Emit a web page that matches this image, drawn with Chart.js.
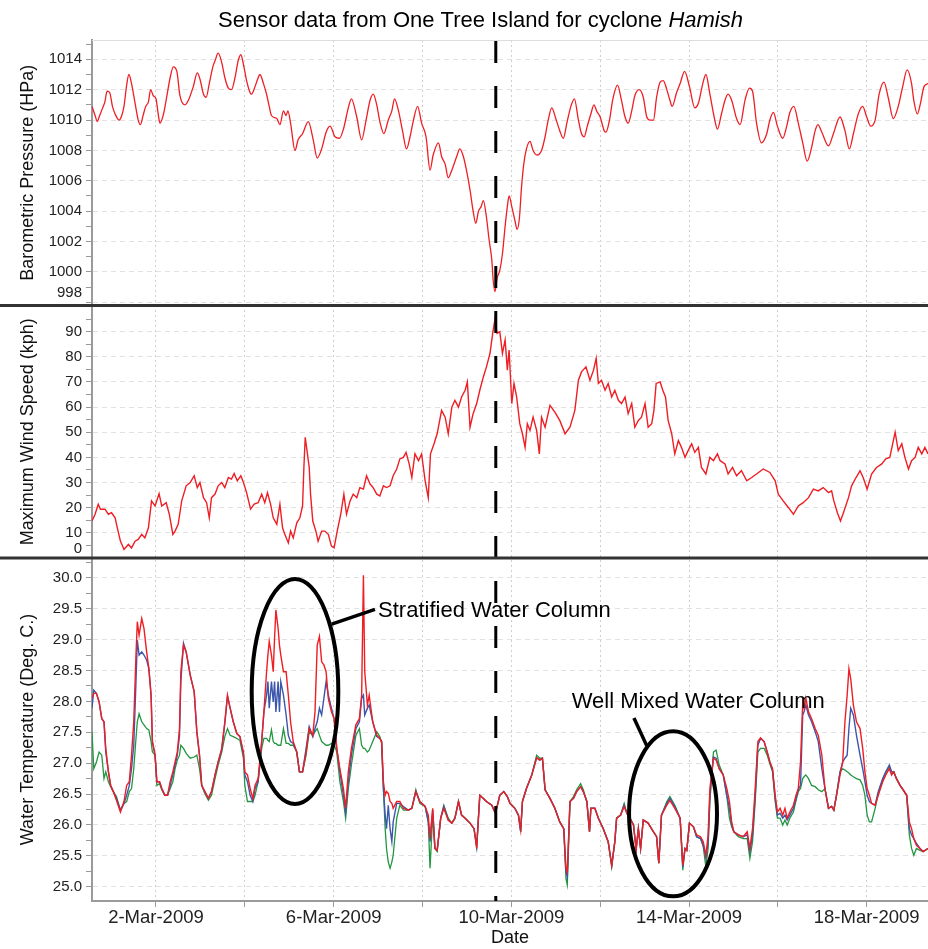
<!DOCTYPE html>
<html><head><meta charset="utf-8">
<script src="https://cdn.jsdelivr.net/npm/chart.js@4.4.1/dist/chart.umd.min.js"></script>
<style>html,body{margin:0;padding:0;background:#fff;}#wrap{width:928px;height:949px;}</style>
</head><body><div id="wrap"><canvas id="c" width="928" height="949"></canvas></div>
<script>
// ---------------- DATA (x = days since 1-Mar-2009 00:00) ----------------
const pressureDays = [
-0.44,-0.37,-0.32,-0.28,-0.20,-0.15,-0.10,-0.04,0.02,0.08,
0.17,0.23,0.28,0.34,0.39,0.45,0.53,0.60,0.65,0.71,
0.77,0.83,0.88,0.94,1.00,1.05,1.09,1.17,1.24,1.32,
1.39,1.47,1.54,1.65,1.73,1.84,1.93,1.99,2.07,2.13,
2.20,2.28,2.33,2.40,2.48,2.55,2.63,2.70,2.78,2.85,
2.91,2.98,3.04,3.12,3.15,3.23,3.29,3.34,3.42,3.49,
3.55,3.60,3.72,3.79,3.87,3.93,3.97,4.03,4.13,4.20,
4.30,4.43,4.54,4.63,4.73,4.83,4.92,5.03,5.13,5.22,
5.33,5.40,5.52,5.63,5.73,5.82,5.89,5.97,6.04,6.13,
6.23,6.31,6.37,6.46,6.55,6.64,6.72,6.79,6.89,6.98,
7.08,7.17,7.24,7.36,7.43,7.51,7.58,7.66,7.77,7.84,
7.92,7.99,8.07,8.14,8.20,8.26,8.32,8.37,8.44,8.50,
8.56,8.59,8.63,8.68,8.74,8.80,8.86,8.91,8.95,9.01,
9.08,9.13,9.18,9.23,9.28,9.34,9.42,9.49,9.58,9.68,
9.76,9.83,9.91,10.00,10.09,10.17,10.25,10.34,10.42,10.51,
10.58,10.64,10.71,10.79,10.86,10.92,11.00,11.09,11.13,11.21,
11.28,11.39,11.48,11.56,11.63,11.71,11.78,11.88,11.97,12.05,
12.12,12.20,12.27,12.35,12.42,12.50,12.57,12.62,12.72,12.80,
12.90,13.01,13.13,13.21,13.31,13.38,13.47,13.58,13.64,13.73,
13.81,13.88,13.96,14.07,14.15,14.26,14.36,14.43,14.52,14.63,
14.75,14.82,14.90,14.99,15.11,15.20,15.27,15.36,15.46,15.56,
15.66,15.76,15.84,15.90,15.99,16.14,16.25,16.40,16.51,16.61,
16.70,16.81,16.91,17.00,17.09,17.19,17.28,17.39,17.49,17.60,
17.71,17.81,17.91,18.01,18.06,18.14,18.21,18.29,18.38];
const pressureValues = [
1010.9,1010.3,1009.9,1010.2,1010.8,1011.2,1011.9,1011.8,1010.9,1010.4,
1010.0,1010.3,1010.9,1012.3,1013.0,1012.4,1011.1,1010.0,1009.7,1010.3,
1010.9,1011.2,1012.0,1011.6,1011.4,1010.4,1009.8,1010.4,1011.5,1012.8,
1013.5,1013.2,1011.6,1011.0,1011.3,1012.2,1013.1,1012.7,1011.7,1011.5,
1012.4,1013.5,1013.9,1014.4,1013.8,1012.8,1012.1,1012.0,1012.8,1013.9,
1014.3,1013.5,1012.6,1011.8,1011.7,1012.2,1012.7,1013.0,1012.4,1011.7,
1010.9,1010.3,1010.1,1009.7,1010.6,1010.3,1010.6,1009.8,1008.0,1008.7,
1009.1,1009.9,1008.7,1007.5,1008.1,1009.2,1009.6,1008.9,1008.8,1009.4,
1010.8,1011.4,1010.2,1008.7,1010.0,1011.3,1011.7,1011.0,1009.9,1009.1,
1010.0,1010.6,1011.4,1010.6,1009.3,1008.1,1008.9,1009.9,1010.9,1009.8,
1008.9,1006.7,1007.7,1008.5,1007.6,1007.1,1006.2,1006.7,1007.6,1008.1,
1007.6,1006.7,1005.4,1004.0,1003.2,1004.0,1004.3,1004.7,1003.6,1002.1,
1000.8,999.5,998.7,999.6,1000.1,1001.2,1003.0,1004.3,1005.0,1004.3,
1003.4,1002.8,1003.5,1005.6,1007.1,1008.1,1008.6,1008.0,1007.7,1008.0,
1008.9,1010.0,1010.8,1010.1,1009.3,1008.8,1009.8,1010.9,1011.4,1010.0,
1009.1,1008.9,1009.6,1010.4,1011.0,1010.6,1010.2,1009.3,1009.2,1010.0,
1011.3,1012.3,1011.3,1010.2,1009.8,1010.6,1011.6,1012.0,1011.5,1010.2,
1010.0,1010.0,1011.5,1012.5,1012.6,1012.0,1011.3,1010.9,1011.8,1012.4,
1013.2,1012.2,1010.8,1011.1,1012.4,1013.0,1011.7,1010.0,1009.4,1010.4,
1011.3,1011.7,1011.3,1010.1,1009.7,1011.3,1012.1,1011.9,1009.8,1008.5,
1009.1,1010.0,1010.5,1009.6,1008.8,1009.6,1010.5,1010.9,1009.8,1008.5,
1007.3,1008.2,1009.3,1009.7,1009.2,1008.3,1009.1,1010.2,1009.3,1008.1,
1009.1,1010.4,1010.9,1010.2,1009.6,1010.0,1011.7,1012.5,1011.4,1010.1,
1010.9,1012.2,1013.3,1012.4,1011.3,1010.4,1011.1,1012.2,1012.4];

const windDays = [
-0.44,-0.37,-0.30,-0.25,-0.15,-0.07,0.00,0.08,0.13,0.20,
0.28,0.38,0.45,0.53,0.60,0.68,0.75,0.83,0.90,0.98,
1.07,1.13,1.23,1.30,1.38,1.43,1.50,1.58,1.68,1.77,
1.86,1.93,1.99,2.07,2.14,2.20,2.25,2.33,2.40,2.48,
2.55,2.63,2.70,2.76,2.83,2.91,2.97,3.04,3.13,3.21,
3.30,3.38,3.45,3.51,3.58,3.64,3.72,3.79,3.85,3.90,
3.98,4.03,4.09,4.17,4.24,4.30,4.33,4.36,4.41,4.45,
4.48,4.53,4.60,4.65,4.73,4.80,4.88,4.95,5.01,5.08,
5.16,5.23,5.29,5.37,5.44,5.52,5.59,5.67,5.74,5.82,
5.89,5.97,6.04,6.12,6.19,6.27,6.34,6.42,6.49,6.57,
6.63,6.70,6.76,6.83,6.91,6.98,7.06,7.13,7.18,7.26,
7.33,7.43,7.51,7.58,7.66,7.73,7.81,7.88,7.96,8.01,
8.07,8.14,8.22,8.29,8.37,8.44,8.52,8.58,8.63,8.68,
8.74,8.80,8.86,8.91,8.95,9.01,9.06,9.12,9.19,9.25,
9.31,9.36,9.42,9.49,9.57,9.63,9.68,9.76,9.87,9.98,
10.09,10.21,10.32,10.43,10.51,10.58,10.68,10.77,10.85,10.91,
10.96,11.03,11.11,11.18,11.26,11.33,11.41,11.48,11.56,11.63,
11.71,11.78,11.86,11.93,12.01,12.08,12.16,12.21,12.26,12.35,
12.41,12.47,12.53,12.61,12.68,12.76,12.83,12.91,12.98,13.06,
13.13,13.21,13.28,13.38,13.47,13.55,13.64,13.70,13.81,13.88,
13.98,14.07,14.18,14.30,14.41,14.52,14.67,14.82,14.94,15.01,
15.12,15.24,15.35,15.46,15.57,15.69,15.80,15.91,16.02,16.14,
16.21,16.26,16.34,16.41,16.49,16.59,16.66,16.76,16.85,16.92,
17.01,17.11,17.22,17.34,17.43,17.52,17.60,17.64,17.71,17.79,
17.86,17.94,18.01,18.09,18.16,18.24,18.31,18.38];
const windValues = [
14.7,17.4,21.4,19.4,19.4,17.4,18.0,16.0,12.0,6.7,
3.4,5.4,4.0,6.7,7.4,9.4,8.0,12.0,22.7,20.7,
25.6,20.7,22.0,17.4,9.4,10.7,13.4,22.7,28.7,30.0,
32.7,28.0,30.0,24.0,22.0,16.0,24.0,25.4,28.7,30.0,
28.0,32.0,31.4,33.6,30.7,32.7,30.0,26.0,19.4,21.4,
22.0,25.4,22.0,26.0,21.4,16.0,13.4,21.4,12.0,9.4,
6.0,10.7,8.0,14.0,16.0,20.7,36.0,48.0,41.4,36.0,
25.4,14.7,10.7,6.7,10.7,10.7,9.4,4.7,4.0,10.7,
17.4,25.4,17.4,22.7,25.4,24.0,28.0,27.4,32.7,29.4,
28.0,25.4,24.7,28.7,28.0,28.7,32.7,35.4,39.4,40.0,
42.0,37.4,32.0,41.4,38.7,41.4,30.7,24.0,41.4,45.4,
49.4,58.7,56.0,49.4,60.0,62.7,60.0,64.0,66.7,70.0,
52.0,57.4,61.4,66.7,72.0,76.0,81.4,89.3,94.7,89.3,
90.0,81.4,86.7,74.7,82.7,61.4,69.4,64.0,53.4,49.4,
44.0,53.4,50.7,56.0,50.7,41.4,56.0,52.0,60.7,58.0,
54.7,49.4,52.0,58.7,70.7,74.0,76.0,70.7,74.7,79.4,
69.4,70.7,66.7,69.4,64.0,66.7,62.7,61.4,64.0,57.4,
61.4,52.0,54.7,56.0,61.4,52.0,53.4,58.7,69.4,70.0,
66.7,64.0,54.7,49.4,41.4,46.7,44.0,40.0,42.7,45.4,
42.0,44.0,36.0,33.4,40.0,38.7,41.4,38.7,37.4,33.4,
36.0,32.7,34.7,30.7,32.0,33.4,35.4,34.0,30.7,25.4,
22.7,20.0,17.4,20.7,22.0,24.0,27.4,26.7,28.0,26.0,
26.7,22.7,18.0,14.7,18.7,24.0,28.7,32.0,34.7,32.0,
27.4,33.4,36.0,37.4,39.4,40.0,46.7,50.0,42.7,45.4,
40.0,35.4,38.7,40.0,44.0,41.4,44.0,41.4];

const tempDays = [
-0.44,-0.40,-0.34,-0.28,-0.22,-0.17,-0.13,-0.07,-0.02,0.04,
0.11,0.20,0.28,0.34,0.40,0.45,0.50,0.55,0.58,0.62,
0.68,0.73,0.79,0.84,0.89,0.92,0.98,1.02,1.08,1.13,
1.20,1.26,1.32,1.38,1.43,1.48,1.53,1.56,1.62,1.68,
1.77,1.86,1.92,1.98,2.03,2.10,2.18,2.25,2.33,2.40,
2.48,2.55,2.61,2.67,2.74,2.82,2.89,2.97,3.00,3.06,
3.12,3.18,3.23,3.30,3.38,3.43,3.49,3.52,3.55,3.60,
3.64,3.67,3.70,3.75,3.78,3.81,3.87,3.93,3.98,4.03,
4.09,4.17,4.23,4.30,4.38,4.45,4.53,4.58,4.63,4.68,
4.73,4.78,4.83,4.88,4.95,5.01,5.07,5.14,5.22,5.27,
5.33,5.40,5.50,5.58,5.63,5.67,5.70,5.76,5.80,5.88,
5.97,6.04,6.08,6.12,6.16,6.19,6.23,6.27,6.31,6.34,
6.42,6.49,6.57,6.68,6.76,6.85,6.94,7.06,7.13,7.17,
7.23,7.28,7.33,7.41,7.48,7.58,7.66,7.73,7.81,7.88,
7.96,8.07,8.16,8.22,8.29,8.37,8.44,8.56,8.63,8.67,
8.74,8.83,8.91,8.97,9.08,9.16,9.21,9.25,9.34,9.46,
9.57,9.64,9.70,9.76,9.87,9.98,10.09,10.18,10.23,10.26,
10.32,10.40,10.47,10.56,10.62,10.70,10.76,10.79,10.88,10.96,
11.07,11.18,11.26,11.33,11.37,11.46,11.54,11.60,11.67,11.75,
11.81,11.86,11.91,11.97,12.08,12.20,12.27,12.32,12.38,12.50,
12.57,12.68,12.80,12.86,12.91,12.95,13.01,13.10,13.17,13.26,
13.32,13.38,13.43,13.47,13.55,13.61,13.68,13.77,13.85,13.91,
13.96,14.01,14.11,14.22,14.31,14.37,14.43,14.49,14.55,14.61,
14.69,14.76,14.82,14.88,14.94,14.99,15.05,15.11,15.16,15.21,
15.27,15.35,15.41,15.46,15.51,15.56,15.59,15.63,15.69,15.76,
15.84,15.91,15.99,16.06,16.14,16.21,16.26,16.32,16.40,16.46,
16.51,16.56,16.60,16.64,16.70,16.77,16.85,16.91,16.96,17.01,
17.06,17.11,17.19,17.26,17.36,17.43,17.51,17.56,17.61,17.67,
17.75,17.82,17.90,17.96,18.01,18.06,18.12,18.20,18.27,18.38];
const tempRed = [
28.05,28.13,28.13,27.99,27.72,27.67,27.24,26.86,26.64,26.54,
26.40,26.21,26.38,26.64,26.70,27.13,27.67,28.75,29.29,29.07,
29.34,29.18,28.80,28.53,28.10,27.35,27.13,26.70,26.70,26.59,
26.48,26.48,26.70,26.86,27.02,27.18,27.56,28.48,28.91,28.80,
28.43,28.16,27.51,27.13,26.64,26.54,26.43,26.54,26.81,27.02,
27.24,27.67,28.10,27.89,27.67,27.48,27.43,27.18,26.86,26.81,
26.59,26.43,26.64,26.75,27.35,27.83,28.48,28.75,28.97,28.75,
28.48,29.02,29.48,29.18,28.91,28.75,28.48,28.48,28.10,27.67,
27.35,27.18,26.86,26.86,27.18,27.56,27.45,27.83,28.91,29.05,
28.64,28.59,28.48,28.05,27.83,27.72,27.24,26.91,26.59,26.27,
26.86,27.24,27.62,27.72,28.10,30.04,28.48,27.94,28.10,27.67,
27.45,27.40,27.35,26.70,26.48,26.54,26.51,26.38,26.35,26.27,
26.38,26.38,26.27,26.24,26.27,26.54,26.38,26.30,26.16,25.78,
26.27,25.62,25.59,26.11,26.27,26.08,26.03,26.11,26.38,26.16,
26.11,26.03,25.94,25.62,26.48,26.43,26.38,26.32,26.21,26.27,
26.48,26.54,26.46,26.35,26.27,26.16,25.92,26.38,26.59,26.81,
27.09,27.05,27.08,26.57,26.43,26.27,26.05,25.94,25.30,25.24,
26.38,26.43,26.54,26.62,26.54,26.38,25.89,26.27,26.27,26.11,
25.94,25.73,25.35,25.73,26.11,26.16,26.30,26.19,26.11,26.00,
25.59,25.94,25.62,26.08,26.03,25.89,25.81,25.38,26.16,26.32,
26.40,26.27,26.11,25.35,25.62,25.59,26.03,25.97,25.84,25.81,
25.73,25.51,25.84,26.59,27.08,27.05,26.91,26.81,26.59,26.38,
26.05,25.89,25.84,25.81,25.89,25.62,25.94,26.59,27.35,27.41,
27.35,27.18,27.02,26.91,26.48,26.21,26.27,26.16,26.27,26.11,
26.21,26.32,26.48,26.59,27.02,27.99,27.89,28.05,27.83,27.72,
27.56,27.45,27.13,26.59,26.27,26.30,26.24,26.48,26.81,27.02,
27.67,28.10,28.53,28.37,27.94,27.67,27.56,27.24,26.86,26.59,
26.48,26.35,26.32,26.48,26.70,26.81,26.91,26.81,26.86,26.75,
26.64,26.57,26.48,26.05,25.94,25.78,25.67,25.62,25.57,25.62];
const tempBlue = [
27.89,28.18,28.13,27.99,27.72,27.67,27.18,26.86,26.64,26.54,
26.43,26.24,26.35,26.48,26.64,26.91,27.29,28.32,28.99,28.75,
28.80,28.75,28.67,28.53,28.10,27.35,27.13,26.70,26.70,26.59,
26.48,26.48,26.64,26.81,26.97,27.13,27.45,28.32,28.94,28.80,
28.43,28.16,27.51,27.13,26.64,26.54,26.43,26.54,26.81,27.02,
27.21,27.64,28.08,27.89,27.67,27.48,27.43,27.13,26.81,26.70,
26.48,26.38,26.59,26.70,27.35,27.83,28.10,28.32,27.89,28.32,
27.99,28.32,27.83,28.32,27.83,28.32,28.10,27.78,27.45,27.35,
27.32,27.18,26.86,26.86,27.24,27.59,27.43,27.56,27.67,27.89,
27.78,28.05,28.32,28.10,27.89,27.72,27.24,26.86,26.48,26.21,
26.70,27.13,27.56,27.67,28.05,28.10,27.78,27.89,27.94,27.67,
27.43,27.40,27.35,26.59,26.16,25.94,26.32,25.94,25.73,26.05,
26.35,26.35,26.30,26.24,26.27,26.54,26.38,26.30,26.05,25.73,
26.24,25.62,25.59,26.11,26.30,26.08,26.03,26.11,26.38,26.16,
26.11,26.03,25.94,25.65,26.48,26.43,26.38,26.32,26.21,26.27,
26.48,26.54,26.46,26.35,26.27,26.16,25.89,26.38,26.59,26.81,
27.09,27.05,27.08,26.57,26.43,26.27,26.05,25.94,25.24,25.16,
26.38,26.43,26.54,26.62,26.54,26.38,25.89,26.27,26.27,26.11,
25.94,25.73,25.35,25.73,26.11,26.16,26.32,26.19,26.11,26.00,
25.62,25.94,25.62,26.08,26.03,25.89,25.81,25.38,26.16,26.35,
26.43,26.30,26.11,25.32,25.62,25.59,26.03,25.97,25.81,25.78,
25.67,25.46,25.73,26.48,27.10,27.08,26.91,26.81,26.48,26.27,
26.00,25.89,25.84,25.81,25.84,25.57,25.84,26.48,27.29,27.40,
27.35,27.18,27.02,26.89,26.43,26.16,26.19,26.11,26.16,26.08,
26.16,26.27,26.43,26.57,26.64,27.78,27.83,27.94,27.78,27.67,
27.51,27.35,26.91,26.59,26.27,26.30,26.24,26.48,26.86,27.02,
27.08,27.13,27.56,27.89,27.78,27.45,27.13,26.91,26.70,26.48,
26.38,26.35,26.32,26.54,26.75,26.86,26.97,26.86,26.86,26.75,
26.64,26.57,26.48,25.94,25.84,25.78,25.70,25.62,25.57,25.62];
const tempGreen = [
27.51,26.91,27.02,27.18,27.13,26.75,26.86,26.70,26.62,26.54,
26.46,26.24,26.35,26.38,26.54,26.59,26.91,27.40,27.67,27.80,
27.67,27.62,27.56,27.54,27.35,27.18,27.13,26.64,26.67,26.57,
26.48,26.48,26.59,26.70,26.91,27.05,27.13,27.29,27.24,27.16,
27.08,27.10,27.13,26.91,26.64,26.51,26.40,26.48,26.75,26.97,
27.18,27.43,27.56,27.45,27.43,27.40,27.37,27.08,26.64,26.38,
26.38,26.38,26.48,26.70,27.24,27.40,27.40,27.37,27.35,27.54,
27.35,27.32,27.32,27.29,27.29,27.29,27.56,27.32,27.32,27.29,
27.29,27.18,26.86,26.86,27.13,27.51,27.45,27.51,27.56,27.45,
27.35,27.32,27.29,27.29,27.32,27.30,27.18,26.70,26.38,26.11,
26.59,26.97,27.45,27.56,27.29,27.24,27.24,27.18,27.21,27.35,
27.51,27.43,27.32,26.59,25.94,25.62,25.40,25.30,25.40,25.51,
26.11,26.32,26.24,26.24,26.27,26.57,26.35,26.30,26.05,25.30,
26.16,25.62,25.57,26.11,26.32,26.11,26.03,26.11,26.38,26.16,
26.11,26.03,25.94,25.65,26.48,26.43,26.38,26.32,26.21,26.27,
26.48,26.54,26.46,26.35,26.27,26.16,25.89,26.38,26.59,26.81,
27.13,27.08,27.08,26.57,26.43,26.27,26.05,25.94,25.13,25.03,
26.38,26.46,26.57,26.67,26.57,26.38,25.89,26.27,26.27,26.11,
25.94,25.73,25.32,25.73,26.11,26.16,26.35,26.19,26.11,26.00,
25.62,25.94,25.62,26.08,26.03,25.89,25.81,25.38,26.16,26.38,
26.46,26.32,26.11,25.27,25.62,25.59,26.03,25.97,25.81,25.78,
25.65,25.32,25.62,26.38,27.18,27.21,26.97,26.81,26.48,26.11,
25.97,25.89,25.81,25.78,25.78,25.46,25.73,26.38,27.18,27.24,
27.24,27.13,26.99,26.86,26.38,26.11,26.11,26.00,26.08,26.00,
26.11,26.21,26.40,26.54,26.59,26.75,26.78,26.81,26.75,26.64,
26.62,26.57,26.54,26.59,26.27,26.30,26.24,26.48,26.86,26.91,
26.89,26.86,26.84,26.81,26.78,26.75,26.73,26.64,26.48,26.16,
26.05,26.05,26.27,26.51,26.73,26.86,26.94,26.86,26.86,26.75,
26.64,26.57,26.48,25.84,25.62,25.51,25.62,25.59,25.57,25.62];

const xTickDays = [1,3,5,7,9,11,13,15,17];
const xLabelDays = [1,5,9,13,17];
const cycloneDay = 8.65;
const titleMain = 'Sensor data from One Tree Island for cyclone ';
const titleItalic = 'Hamish';
const callouts = [
  {text:'Stratified Water Column', day:4.13, temp:28.16, halfDays:0.975, halfDeg:1.82,
   from:[4.955,29.25], to:[5.93,29.49], textDay:6.0, textTemp:29.37},
  {text:'Well Mixed Water Column', day:12.64, temp:26.18, halfDays:0.99, halfDeg:1.335,
   from:[12.05,27.28], to:[11.76,27.73], textDay:10.36, textTemp:27.89}
];

// ---------------- CHART ----------------
const FONT = '"Liberation Sans", Arial, Helvetica, sans-serif';
const RED = 'rgb(238,30,36)', BLUE = 'rgb(60,86,172)', GREEN = 'rgb(34,150,64)';
const pts = (xs, ys) => xs.map((d, i) => ({x: d, y: ys[i]}));
function makeTicks(first, last, step) {
  const out = [];
  const n = Math.round((last - first) / step);
  for (let i = 0; i <= n; i++) out.push({value: +(first + i * step).toFixed(4)});
  return out;
}
const isMult = (v, m) => Math.abs(v / m - Math.round(v / m)) < 1e-6;

function yAxis(opts) {
  return {
    type: 'linear', position: 'left', stack: 'panels', stackWeight: opts.weight, weight: opts.order,
    min: opts.min, max: opts.max,
    afterBuildTicks: s => { s.ticks = makeTicks(opts.tFirst, opts.tLast, opts.minor); },
    afterFit: s => { s.width = 92; },
    ticks: {
      autoSkip: false, padding: 4, color: '#222', font: {family: FONT, size: 15},
      callback: v => {
        if (!isMult(v, opts.major)) return '';
        const t = opts.fmt(v);
        return Math.abs(v - opts.lift) < 1e-6 ? [t, ''] : t;
      }
    },
    grid: {
      drawTicks: true, tickLength: 6, tickWidth: 1, tickColor: '#999', lineWidth: 1,
      color: c => (c.tick && isMult(c.tick.value, opts.major)) ? '#e2e2e2' : 'rgba(0,0,0,0)'
    },
    border: {display: true, color: '#9a9a9a', width: 2, dash: [5, 4]},
    title: {display: true, text: opts.title, color: '#111', font: {family: FONT, size: 18}, padding: {top: 17, bottom: 0}}
  };
}

const decor = {
  id: 'decor',
  beforeDraw(chart) {
    const c = chart.ctx; c.save(); c.fillStyle = '#fff'; c.fillRect(0, 0, chart.width, chart.height); c.restore();
  },
  afterDraw(chart) {
    const {ctx, chartArea, scales} = chart;
    const xs = scales.x, yP = scales.yP, yW = scales.yW, yT = scales.yT;
    ctx.save();
    ctx.strokeStyle = '#dddddd'; ctx.lineWidth = 1;
    ctx.beginPath(); ctx.moveTo(chartArea.left, chartArea.top + 0.5); ctx.lineTo(chartArea.right, chartArea.top + 0.5); ctx.stroke();
    const cx = xs.getPixelForValue(cycloneDay);
    ctx.strokeStyle = '#000'; ctx.lineWidth = 3; ctx.setLineDash([22, 23]);
    ctx.beginPath(); ctx.moveTo(cx, chartArea.top + 1); ctx.lineTo(cx, chartArea.bottom); ctx.stroke();
    ctx.setLineDash([]);
    ctx.strokeStyle = '#333'; ctx.lineWidth = 3;
    for (const s of [yP, yW]) {
      ctx.beginPath(); ctx.moveTo(0, s.bottom); ctx.lineTo(chart.width, s.bottom); ctx.stroke();
    }
    ctx.strokeStyle = '#000'; ctx.fillStyle = '#000';
    for (const a of callouts) {
      const ex = xs.getPixelForValue(a.day), ey = yT.getPixelForValue(a.temp);
      const rx = Math.abs(xs.getPixelForValue(a.day + a.halfDays) - ex);
      const ry = Math.abs(yT.getPixelForValue(a.temp + a.halfDeg) - ey);
      ctx.lineWidth = 4;
      ctx.beginPath(); ctx.ellipse(ex, ey, rx, ry, 0, 0, Math.PI * 2); ctx.stroke();
      ctx.lineWidth = 3.5;
      ctx.beginPath();
      ctx.moveTo(xs.getPixelForValue(a.from[0]), yT.getPixelForValue(a.from[1]));
      ctx.lineTo(xs.getPixelForValue(a.to[0]), yT.getPixelForValue(a.to[1]));
      ctx.stroke();
      ctx.font = '22px ' + FONT; ctx.textAlign = 'left'; ctx.textBaseline = 'alphabetic';
      ctx.fillText(a.text, xs.getPixelForValue(a.textDay), yT.getPixelForValue(a.textTemp));
    }
    ctx.fillStyle = '#000'; ctx.textBaseline = 'alphabetic'; ctx.textAlign = 'left';
    ctx.font = '22px ' + FONT;
    const w1 = ctx.measureText(titleMain).width;
    ctx.font = 'italic 22px ' + FONT;
    const w2 = ctx.measureText(titleItalic).width;
    const tx = 480.5 - (w1 + w2) / 2;
    ctx.font = '22px ' + FONT; ctx.fillText(titleMain, tx, 27);
    ctx.font = 'italic 22px ' + FONT; ctx.fillText(titleItalic, tx + w1, 27);
    ctx.restore();
  }
};

new Chart(document.getElementById('c'), {
  type: 'line',
  data: {
    datasets: [
      {label: 'Water temperature (red sensor)', data: pts(tempDays, tempRed), yAxisID: 'yT', borderColor: RED, borderWidth: 1.4, pointRadius: 0, tension: 0},
      {label: 'Water temperature (blue sensor)', data: pts(tempDays, tempBlue), yAxisID: 'yT', borderColor: BLUE, borderWidth: 1.4, pointRadius: 0, tension: 0},
      {label: 'Water temperature (green sensor)', data: pts(tempDays, tempGreen), yAxisID: 'yT', borderColor: GREEN, borderWidth: 1.3, pointRadius: 0, tension: 0},
      {label: 'Barometric Pressure (HPa)', data: pts(pressureDays, pressureValues), yAxisID: 'yP', borderColor: RED, borderWidth: 1.3, pointRadius: 0, cubicInterpolationMode: 'monotone'},
      {label: 'Maximum Wind Speed (kph)', data: pts(windDays, windValues), yAxisID: 'yW', borderColor: RED, borderWidth: 1.4, pointRadius: 0, tension: 0}
    ]
  },
  options: {
    responsive: false, animation: false, devicePixelRatio: 1,
    layout: {padding: {top: 40, left: 0, right: 0, bottom: 0}},
    plugins: {legend: {display: false}, tooltip: {enabled: false}, title: {display: false}},
    scales: {
      x: {
        type: 'linear', position: 'bottom', min: -0.44, max: 18.38,
        afterBuildTicks: s => { s.ticks = xTickDays.map(v => ({value: v})); },
        afterFit: s => { s.height = 48; },
        ticks: {
          autoSkip: false, maxRotation: 0, padding: 0, color: '#222', font: {family: FONT, size: 18.5},
          callback: v => xLabelDays.includes(v) ? (v + 1) + '-Mar-2009' : ''
        },
        grid: {drawTicks: true, tickLength: 6, tickWidth: 1, tickColor: '#999', lineWidth: 1, color: '#cfcfcf'},
        border: {display: true, color: '#9a9a9a', width: 2, dash: [2, 3]},
        title: {display: true, text: 'Date', color: '#111', font: {family: FONT, size: 18}, padding: {top: 0, bottom: 0}}
      },
      yP: yAxis({weight: 265.5, order: 3, min: 997.79, max: 1015.27, tFirst: 998, tLast: 1015, minor: 1, major: 2, lift: 998,
                 fmt: v => String(Math.round(v)), title: 'Barometric Pressure (HPa)'}),
      yW: yAxis({weight: 252.5, order: 2, min: 0, max: 100.4, tFirst: 0, tLast: 95, minor: 5, major: 10, lift: 0,
                 fmt: v => String(Math.round(v)), title: 'Maximum Wind Speed (kph)'}),
      yT: yAxis({weight: 343, order: 1, min: 24.77, max: 30.32, tFirst: 25, tLast: 30.25, minor: 0.25, major: 0.5, lift: -999,
                 fmt: v => v.toFixed(1), title: 'Water Temperature (Deg. C.)'})
    }
  },
  plugins: [decor]
});
</script>
</body></html>
